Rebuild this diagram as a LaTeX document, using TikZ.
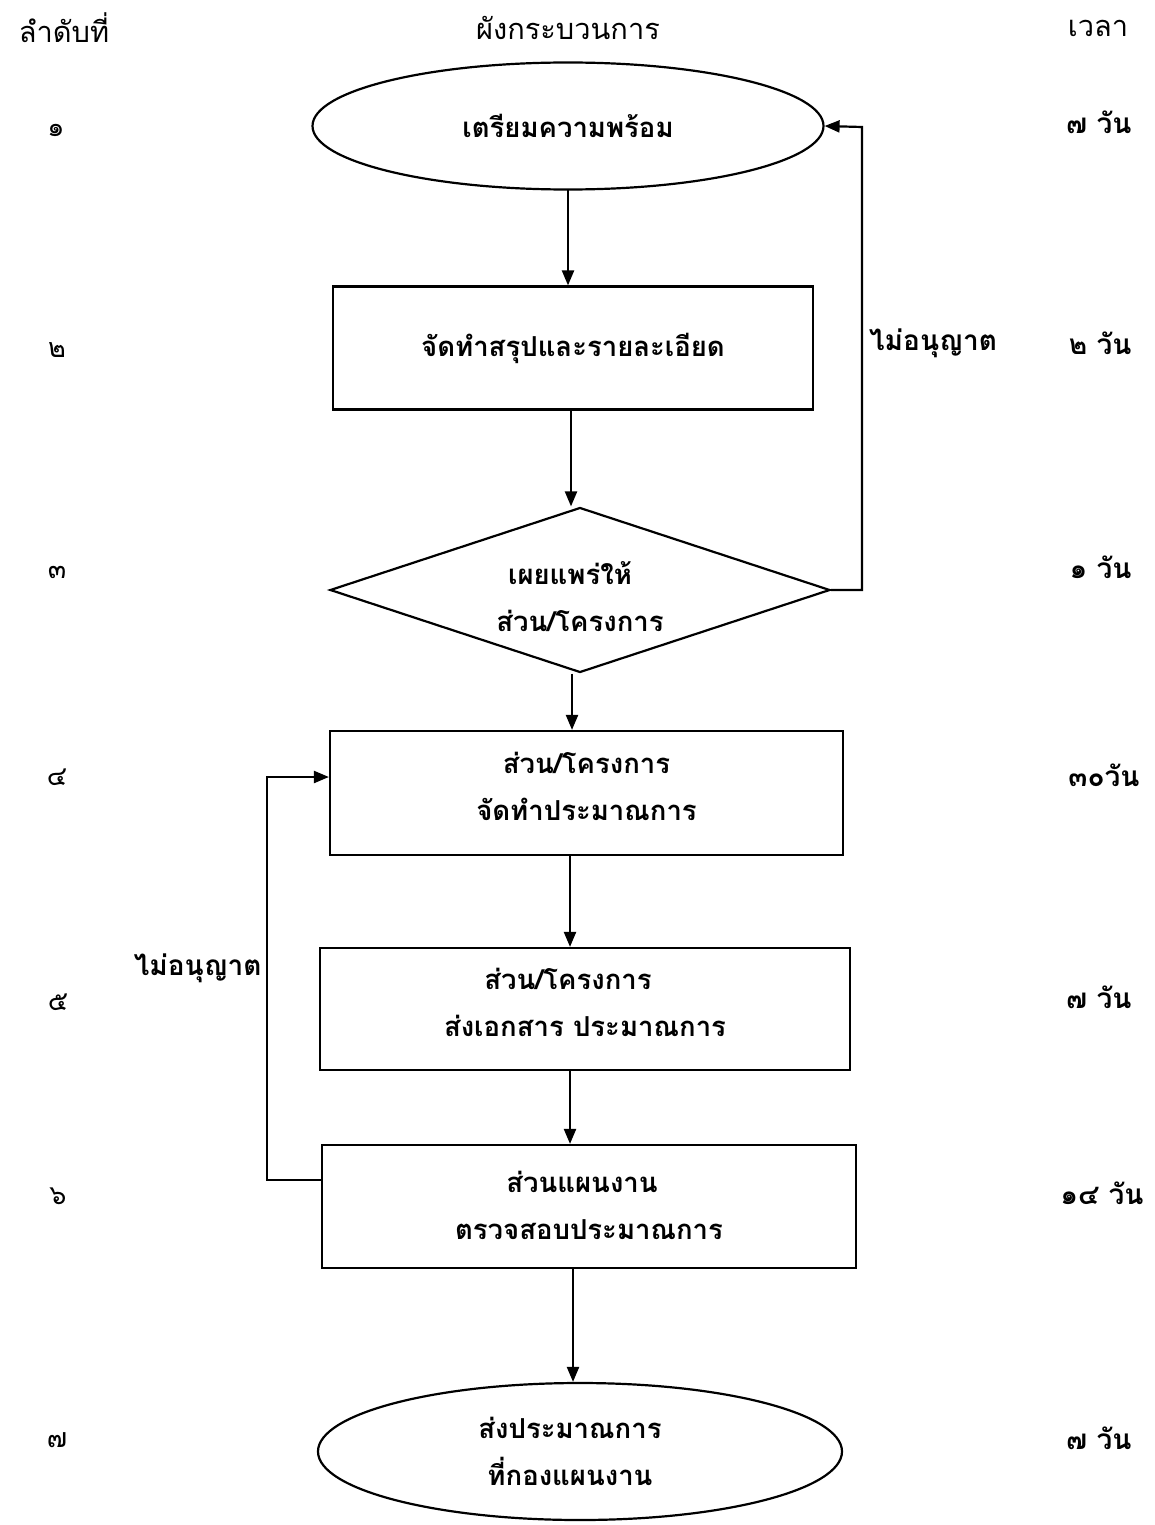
\documentclass[tikz,border=0pt]{standalone}
\usepackage{fontspec}
\newfontfamily\thai[Script=Thai]{Loma}
\usetikzlibrary{shapes.geometric,arrows.meta,calc}
\begin{document}
\begin{tikzpicture}[x=1pt,y=-1pt,
  font=\thai\fontsize{28}{47}\selectfont,
  line width=2.2pt,
  arr/.style={-{Triangle[length=15pt,width=12pt]}},
  boxfont/.style={font=\thai\bfseries\fontsize{27.5}{47}\selectfont},
  procbox/.style={draw, rectangle, inner sep=0pt, align=center, boxfont},
  termin/.style={draw, ellipse, inner sep=0pt, align=center, boxfont},
  decide/.style={draw, diamond, inner sep=0pt, aspect=3, align=center, boxfont},
  hdr/.style={font=\thai\fontsize{29}{30}\selectfont},
  num/.style={font=\thai\fontsize{27}{30}\selectfont},
  tim/.style={font=\thai\bfseries\fontsize{28}{30}\selectfont, anchor=east},
  lbl/.style={font=\thai\bfseries\fontsize{28}{30}\selectfont}]
\useasboundingbox (0,0) rectangle (1155,1525);
% headers
\node[hdr] (h1) at (64,28) {ลำดับที่};
\node[hdr] (h2) at (568,28) {ผังกระบวนการ};
\node[hdr] (h3) at (1098,28) {เวลา};
% shapes
\node[termin, minimum width=511pt, minimum height=127pt] (e1) at (568,126) {เตรียมความพร้อม};
\node[procbox, minimum width=480pt, minimum height=123pt] (b2) at (573,348) {จัดทำสรุปและรายละเอียด};
\node[decide, minimum width=500pt, minimum height=165pt] (d3) at (580,590) {\rule{0pt}{37pt}เผยแพร่ให้\hspace*{20pt}\\ส่วน/โครงการ};
\node[procbox, minimum width=513pt, minimum height=124pt] (b4) at (586.5,793) {ส่วน/โครงการ\\จัดทำประมาณการ\\[-34pt]};
\node[procbox, minimum width=530pt, minimum height=122pt] (b5) at (585,1009) {ส่วน/โครงการ\hspace*{34pt}\\ส่งเอกสาร ประมาณการ\\[-34pt]};
\node[procbox, minimum width=534pt, minimum height=123pt] (b6) at (589,1206.5) {ส่วนแผนงาน\hspace*{14pt}\\ตรวจสอบประมาณการ\\[-44pt]};
\node[termin, minimum width=524pt, minimum height=137pt] (e7) at (580,1451.5) {ส่งประมาณการ\hspace*{20pt}\\ที่กองแผนงาน\hspace*{20pt}};
% connectors
\draw[arr] (568,189.5) -- (b2.north -| 568,0);
\draw[arr] (b2.south -| 571,0) -- (d3.north -| 571,0);
\draw[arr] (d3.south -| 572,0) -- (b4.north -| 572,0);
\draw[arr] (b4.south -| 570,0) -- (b5.north -| 570,0);
\draw[arr] (b5.south -| 570,0) -- (b6.north -| 570,0);
\draw[arr] (b6.south -| 573,0) -- (e7.north -| 573,0);
\coordinate (r1) at (862,590);
\coordinate (r2) at (862,127);
\draw[arr] (d3.east) -- (r1) -- (r2) -- (e1.east);
\coordinate (l1) at (267,1180);
\coordinate (l2) at (267,777);
\draw[arr] (b6.west |- l1) -- (l1) -- (l2) -- (b4.west |- l2);
\node[lbl] (n1) at (933,343) {ไม่อนุญาต};
\node[lbl, anchor=east] (n2) at (266,968) {ไม่อนุญาต};
% step numbers
\node[num] (s1) at (56,130) {๑};
\node[num] (s2) at (57,350) {๒};
\node[num] (s3) at (57,572) {๓};
\node[num] (s4) at (57,777) {๔};
\node[num] (s5) at (58,1002) {๕};
\node[num] (s6) at (58,1196) {๖};
\node[num] (s7) at (57,1440) {๗};
% times
\node[tim] (t1) at (1136,122) {๗ วัน};
\node[tim] (t2) at (1136,343) {๒ วัน};
\node[tim] (t3) at (1136,567) {๑ วัน};
\node[tim] (t4) at (1144,775) {๓๐วัน};
\node[tim] (t5) at (1136,997) {๗ วัน};
\node[tim] (t6) at (1148,1193) {๑๔ วัน};
\node[tim] (t7) at (1136,1438) {๗ วัน};
\end{tikzpicture}
\end{document}
